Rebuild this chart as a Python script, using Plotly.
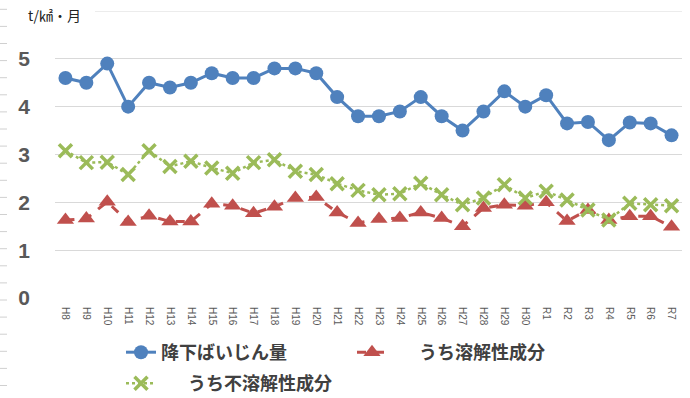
import plotly.graph_objects as go

categories = ["H8","H9","H10","H11","H12","H13","H14","H15","H16","H17","H18","H19","H20","H21","H22",
              "H23","H24","H25","H26","H27","H28","H29","H30","R1","R2","R3","R4","R5","R6","R7"]
total = [4.6,4.5,4.9,4.0,4.5,4.4,4.5,4.7,4.6,4.6,4.8,4.8,4.7,4.2,3.8,
         3.8,3.9,4.2,3.8,3.5,3.9,4.32,4.0,4.24,3.65,3.68,3.3,3.67,3.65,3.4]
soluble = [1.63,1.66,2.01,1.59,1.72,1.6,1.6,1.97,1.93,1.77,1.91,2.09,2.11,1.79,1.57,
           1.65,1.67,1.79,1.67,1.5,1.88,1.95,1.93,2.0,1.61,1.84,1.63,1.71,1.71,1.49]
insoluble = [3.08,2.83,2.84,2.58,3.08,2.75,2.86,2.72,2.61,2.83,2.89,2.65,2.58,2.39,2.25,
             2.16,2.18,2.4,2.16,1.95,2.09,2.37,2.09,2.23,2.05,1.84,1.63,1.98,1.95,1.93]
names = ["降下ばいじん量", "うち溶解性成分", "うち不溶解性成分"]
unit_label = "t/㎢・月"

W, H = 690, 398
L, R, T, B = 55, 8, 11, 100
pw, ph = W - L - R, H - T - B

def px(x):
    return (x - L) / pw

def py(y):
    return (H - B - y) / ph

def cx(x):
    return x / W

def cy(y):
    return 1 - y / H

fig = go.Figure()
fig.add_trace(go.Scatter(
    x=categories, y=total, name=names[0], mode="lines+markers",
    line=dict(color="#4F81BD", width=3),
    marker=dict(symbol="circle", size=14, color="#4F81BD"),
    legend="legend"))
fig.add_trace(go.Scatter(
    x=categories, y=soluble, name="\u2003\u2002" + names[1], mode="lines+markers",
    line=dict(color="#C0504D", width=3, dash="dash"),
    marker=dict(symbol="triangle-up", size=15, color="#C0504D"),
    legend="legend"))
fig.add_trace(go.Scatter(
    x=categories, y=insoluble, name="\u2003\u2002" + names[2], mode="lines+markers",
    line=dict(color="#9BBB59", width=2.5, dash="dot"),
    marker=dict(symbol="x-thin", size=13, color="#9BBB59",
                line=dict(color="#9BBB59", width=3.5)),
    legend="legend2"))

shapes = [dict(type="line", xref="paper", yref="y", x0=px(95), x1=1, y0=6, y1=6,
               line=dict(color="#d9d9d9", width=1), layer="below")]
for k in range(23):
    yy = 9.3 + 17.1 * k
    shapes.append(dict(type="line", xref="paper", yref="paper",
                       x0=px(0), x1=px(7), y0=py(yy), y1=py(yy),
                       line=dict(color="#d0d0d0", width=1)))

legfont = dict(family="Noto Sans CJK JP", size=18, color="#404040", weight="bold")
fig.update_layout(
    width=W, height=H,
    margin=dict(l=L, r=R, t=T, b=B, autoexpand=False),
    plot_bgcolor="white", paper_bgcolor="white",
    font=dict(family="Noto Sans CJK JP"),
    xaxis=dict(type="category", range=[-0.5, len(categories) - 0.5],
               showgrid=False, showline=False, zeroline=False, automargin=False,
               tickangle=90, tickfont=dict(family="Liberation Sans", size=10, color="#595959"),
               ticks="outside", ticklen=6, tickcolor="rgba(0,0,0,0)"),
    yaxis=dict(range=[0, 6], tickvals=[0, 1, 2, 3, 4, 5], showgrid=True,
               gridcolor="#d9d9d9", gridwidth=1, zeroline=False, showline=False,
               ticklabelstandoff=24, automargin=False,
               tickfont=dict(family="Liberation Sans", size=21, color="#595959", weight="bold")),
    showlegend=True,
    legend=dict(orientation="h", xref="container", yref="container",
                x=cx(121), y=cy(334), xanchor="left", yanchor="top",
                entrywidth=186, entrywidthmode="pixels", font=legfont,
                bgcolor="rgba(0,0,0,0)", itemwidth=30),
    legend2=dict(orientation="h", xref="container", yref="container",
                 x=cx(121), y=cy(365), xanchor="left", yanchor="top",
                 font=legfont, bgcolor="rgba(0,0,0,0)", itemwidth=30),
    shapes=shapes,
    annotations=[dict(text=unit_label, xref="paper", yref="paper", x=px(26), y=py(15),
                      xanchor="left", yanchor="middle", showarrow=False,
                      font=dict(family="Noto Sans CJK JP", size=14, color="#222222"))],
)
fig.write_html("out.html")
